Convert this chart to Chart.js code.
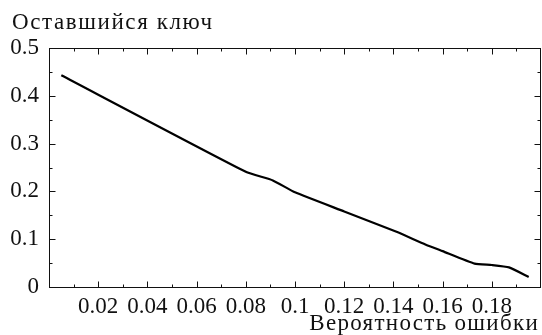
<!DOCTYPE html>
<html>
<head>
<meta charset="utf-8">
<script src="https://cdn.jsdelivr.net/npm/chart.js@4"></script>
<style>
html,body{margin:0;padding:0;background:#fff;}
#wrap{width:542px;height:335px;position:relative;}
</style>
</head>
<body>
<div id="wrap"><canvas id="c" width="542" height="335"></canvas></div>
<script>
const errorProb = [0.005, 0.08, 0.091, 0.1, 0.12, 0.141, 0.153, 0.16, 0.173, 0.18, 0.187, 0.195];
const remainingKey = [0.443, 0.241, 0.223, 0.198, 0.158, 0.116, 0.089, 0.075, 0.049, 0.046, 0.041, 0.021];
const xMajorTicks = [0.02, 0.04, 0.06, 0.08, 0.1, 0.12, 0.14, 0.16, 0.18];
const xMinorTicks = [0.01, 0.03, 0.05, 0.07, 0.09, 0.11, 0.13, 0.15, 0.17, 0.19];
const yMajorTicks = [0, 0.1, 0.2, 0.3, 0.4, 0.5];
const yMinorTicks = [0.05, 0.15, 0.25, 0.35, 0.45];
const yTitle = 'Оставшийся ключ';
const xTitle = 'Вероятность ошибки';

const FONT = '"Liberation Serif", "DejaVu Serif", serif';
const INK = '#111';

const fmt = v => String(Number(v.toFixed(2)));

const frameTicks = {
  id: 'frameTicks',
  afterDraw(chart) {
    const {ctx, chartArea: a, scales: {x, y}} = chart;
    ctx.save();
    ctx.strokeStyle = INK;
    ctx.lineWidth = 1;
    ctx.strokeRect(Math.round(a.left) + 0.5, Math.round(a.top) + 0.5,
      Math.round(a.right) - Math.round(a.left) - 1, Math.round(a.bottom) - Math.round(a.top));
    const L = Math.round(a.left) + 0.5, R = Math.round(a.right) - 0.5;
    const T = Math.round(a.top) + 0.5, B = Math.round(a.bottom) + 0.5;
    ctx.beginPath();
    const xt = (vals, len) => vals.forEach(v => {
      const px = Math.round(x.getPixelForValue(v)) + 0.5;
      ctx.moveTo(px, B); ctx.lineTo(px, B - len);
      ctx.moveTo(px, T); ctx.lineTo(px, T + len);
    });
    const yt = (vals, len) => vals.forEach(v => {
      const py = Math.round(y.getPixelForValue(v)) + 0.5;
      ctx.moveTo(L, py); ctx.lineTo(L + len, py);
      ctx.moveTo(R, py); ctx.lineTo(R - len, py);
    });
    xt(xMajorTicks, 6); xt(xMinorTicks, 3);
    yt(yMajorTicks, 6); yt(yMinorTicks, 3);
    ctx.stroke();
    ctx.fillStyle = INK;
    ctx.font = '23px ' + FONT;
    ctx.textBaseline = 'alphabetic';
    ctx.letterSpacing = '1.6px';
    ctx.textAlign = 'left';
    ctx.fillText(yTitle, 12, 29);
    ctx.letterSpacing = '1.3px';
    ctx.textAlign = 'right';
    ctx.fillText(xTitle, 539, 330);
    ctx.restore();
  }
};

new Chart(document.getElementById('c'), {
  type: 'line',
  data: {
    datasets: [{
      data: errorProb.map((v, i) => ({x: v, y: remainingKey[i]})),
      borderColor: '#000',
      borderWidth: 2.2,
      pointRadius: 0,
      tension: 0.15,
      fill: false
    }]
  },
  options: {
    responsive: false,
    animation: false,
    devicePixelRatio: 1,
    layout: {padding: {top: 48, right: 1, left: 0, bottom: 0}},
    plugins: {legend: {display: false}, tooltip: {enabled: false}, title: {display: false}},
    scales: {
      x: {
        type: 'linear', min: 0, max: 0.2,
        afterFit: s => { s.height = 48; },
        afterBuildTicks: s => { s.ticks = xMajorTicks.map(v => ({value: v})); },
        grid: {display: false, drawTicks: false},
        border: {display: false},
        ticks: {padding: 6, maxRotation: 0, autoSkip: false, color: INK,
          font: {family: FONT, size: 23}, callback: v => fmt(v)}
      },
      y: {
        type: 'linear', min: 0, max: 0.5,
        afterFit: s => { s.width = 49; },
        afterBuildTicks: s => { s.ticks = yMajorTicks.map(v => ({value: v})); },
        grid: {display: false, drawTicks: false},
        border: {display: false},
        ticks: {padding: 10, autoSkip: false, color: INK,
          font: {family: FONT, size: 23}, callback: v => fmt(v)}
      }
    }
  },
  plugins: [frameTicks]
});
</script>
</body>
</html>
